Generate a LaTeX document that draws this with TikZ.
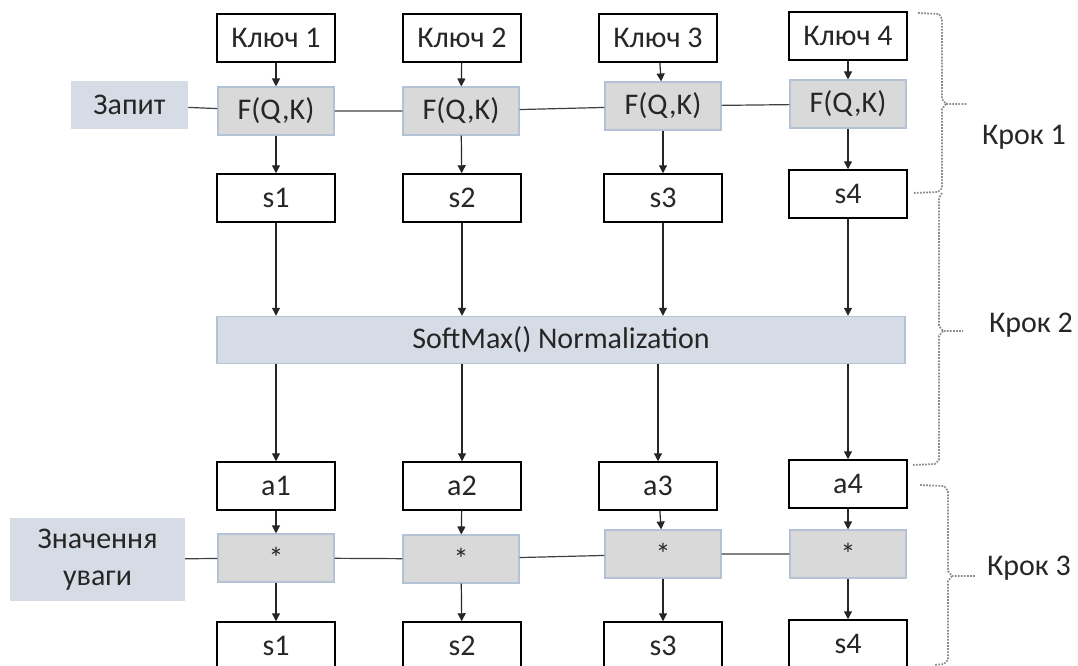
\documentclass[tikz,border=0pt]{standalone}
\usepackage{fontspec}
\setmainfont{Carlito}
\usetikzlibrary{arrows.meta}

\definecolor{keygray}{HTML}{D9D9D9}
\definecolor{keyedge}{HTML}{B4C2D6}
\definecolor{qblue}{HTML}{D6DCE5}
\definecolor{bracegray}{HTML}{8C8C8C}

\tikzset{
  plainbox/.style={draw=black, line width=1.1pt, fill=white, minimum width=88.5pt, minimum height=36pt, inner sep=0pt},
  funcbox/.style={draw=keyedge, line width=0.8pt, fill=keygray, minimum width=87pt, minimum height=36pt, inner sep=0pt},
  inbox/.style={fill=qblue, inner sep=0pt, align=center},
  flow/.style={-{Triangle[length=6pt,width=6pt]}, line width=0.9pt, black!85},
  link/.style={line width=0.9pt, black!75},
  stepbrace/.style={densely dotted, line width=1.3pt, bracegray},
  steplabel/.style={inner sep=0pt}
}

\begin{document}
\begin{tikzpicture}[x=0.75pt, y=0.75pt, font=\fontsize{22.5}{26}\selectfont, text=black!85]
\useasboundingbox (0,0) rectangle (1078,-666);

% keys
\node [plainbox] (k1) at (276,-38) {Ключ 1};
\node [plainbox] (k2) at (462,-38) {Ключ 2};
\node [plainbox] (k3) at (658,-38) {Ключ 3};
\node [plainbox] (k4) at (848,-36) {Ключ 4};

% query and score functions
\node [inbox, minimum width=87.75pt, minimum height=36pt] (q) at (129.5,-105) {Запит};
\node [funcbox] (f1) at (276,-111) {F(Q,K)};
\node [funcbox] (f2) at (461,-111) {F(Q,K)};
\node [funcbox] (f3) at (663,-106) {F(Q,K)};
\node [funcbox] (f4) at (848,-104) {F(Q,K)};

% scores
\node [plainbox] (s1) at (276,-198) {s1};
\node [plainbox] (s2) at (462,-198) {s2};
\node [plainbox] (s3) at (663,-198) {s3};
\node [plainbox] (s4) at (848,-194) {s4};

\node [inbox, draw=keyedge, line width=0.8pt, minimum width=516pt, minimum height=35.5pt] (soft) at (561,-340) {SoftMax() Normalization};

% weights
\node [plainbox] (a1) at (276,-486) {a1};
\node [plainbox] (a2) at (462,-486) {a2};
\node [plainbox] (a3) at (658,-486) {a3};
\node [plainbox] (a4) at (848,-484) {a4};

\node [inbox, minimum width=131pt, minimum height=62pt] (v) at (97.5,-559.5) {Значення\\[2pt]уваги};
\node [funcbox] (m1) at (276,-558) {*};
\node [funcbox] (m2) at (461,-559) {*};
\node [funcbox] (m3) at (663,-554) {*};
\node [funcbox] (m4) at (848,-554) {*};

\node [plainbox] (r1) at (276,-646) {s1};
\node [plainbox] (r2) at (462,-646) {s2};
\node [plainbox] (r3) at (663,-646) {s3};
\node [plainbox] (r4) at (848,-644) {s4};

% horizontal links
\draw [link] (q) -- (f1) -- (f2) -- (f3) -- (f4);
\draw [link] (v) -- (m1) -- (m2) -- (m3) -- (m4);

% vertical flow
\foreach \i in {1,2,3,4} {
  \draw [flow] (k\i) -- (f\i);
  \draw [flow] (f\i) -- (s\i);
  \draw [flow] (s\i.south) -- (s\i.south |- soft.north);
  \draw [flow] (a\i.north |- soft.south) -- (a\i.north);
  \draw [flow] (a\i) -- (m\i);
  \draw [flow] (m\i) -- (r\i);
}

% step braces
\draw [stepbrace] (918,-13) -- (939,-14) -- (942,-19) -- (942,-99) -- (946,-104) -- (967,-104);
\draw [stepbrace] (946,-104) -- (942,-109) -- (942,-188) -- (938,-192) -- (913,-193);
\draw [stepbrace] (942,-193) -- (939,-198) -- (939,-326) -- (943,-331) -- (963,-331);
\draw [stepbrace] (943,-331) -- (939,-336) -- (939,-460) -- (935,-464) -- (913,-465);
\draw [stepbrace] (920,-485) -- (944,-486) -- (948,-491) -- (948,-571) -- (952,-576) -- (975,-576);
\draw [stepbrace] (952,-576) -- (948,-581) -- (948,-660) -- (944,-664) -- (935,-665);

\node [steplabel] (step1) at (1024,-137) {Крок 1};
\node [steplabel] (step2) at (1031,-325) {Крок 2};
\node [steplabel] (step3) at (1029,-568) {Крок 3};
\end{tikzpicture}
\end{document}
